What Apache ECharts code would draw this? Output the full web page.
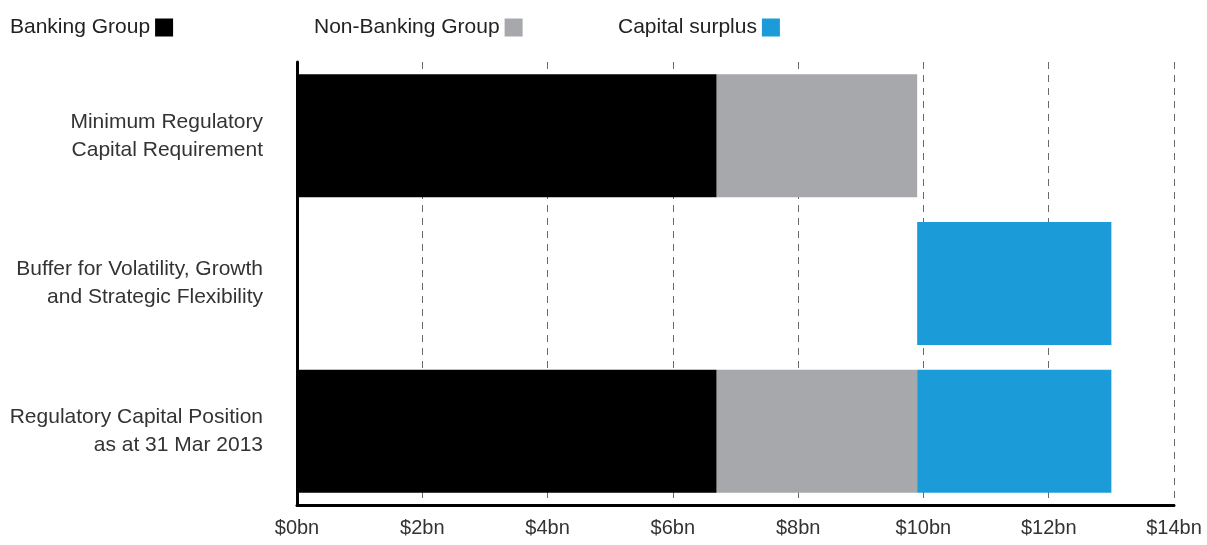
<!DOCTYPE html>
<html>
<head>
<meta charset="utf-8">
<script src="https://cdn.jsdelivr.net/npm/echarts@6/dist/echarts.min.js"></script>
<style>
html,body{margin:0;padding:0;background:#fff;}
#c{width:1207px;height:545px;}
</style>
</head>
<body>
<div id="c"></div>
<script>
const categories = ['Minimum Regulatory\nCapital Requirement', 'Buffer for Volatility, Growth\nand Strategic Flexibility', 'Regulatory Capital Position\nas at 31 Mar 2013'];
const bankingGroup = [6.7, 0, 6.7];
const nonBankingGroup = [3.2, 0, 3.2];
const bufferOffset = [0, 9.9, 0];
const capitalSurplus = [0, 3.1, 3.1];
const xTicks = [0, 2, 4, 6, 8, 10, 12, 14];

const FONT = 'Liberation Sans, Arial, sans-serif';
const chart = echarts.init(document.getElementById('c'));
const legendBase = {
  top: 17, orient: 'horizontal', align: 'right', icon: 'rect', padding: 0,
  itemWidth: 18, itemHeight: 18, selectedMode: false,
  textStyle: { fontSize: 21, color: '#222', fontFamily: FONT }
};
chart.setOption({
  animation: false,
  backgroundColor: '#fff',
  legend: [
    Object.assign({}, legendBase, { left: 10, data: ['Banking Group'] }),
    Object.assign({}, legendBase, { left: 314, data: ['Non-Banking Group'] }),
    Object.assign({}, legendBase, { left: 618, data: ['Capital surplus'] })
  ],
  grid: { left: 297, right: 33, top: 62, bottom: 40, containLabel: false },
  xAxis: {
    type: 'value', min: 0, max: 14, interval: 2,
    axisLine: { show: true, lineStyle: { color: '#000', width: 3 } },
    axisTick: { show: false },
    axisLabel: {
      margin: 13, fontSize: 20, color: '#333', fontFamily: FONT,
      formatter: v => xTicks.indexOf(v) >= 0 ? '$' + v + 'bn' : ''
    },
    splitLine: { show: true, lineStyle: { color: '#6a6a6a', width: 1, type: [7, 6] } }
  },
  yAxis: {
    type: 'category', data: categories, inverse: true,
    axisLine: { show: true, lineStyle: { color: '#000', width: 3 } },
    axisTick: { show: false },
    axisLabel: { margin: 34, fontSize: 21, lineHeight: 28, color: '#333', fontFamily: FONT, align: 'right' }
  },
  series: [
    { name: 'Banking Group', type: 'bar', stack: 's', data: bankingGroup, barWidth: 123, itemStyle: { color: '#000' } },
    { name: 'Non-Banking Group', type: 'bar', stack: 's', data: nonBankingGroup, itemStyle: { color: '#a6a8ab' } },
    { name: 'offset', type: 'bar', stack: 's', data: bufferOffset, itemStyle: { color: 'rgba(0,0,0,0)' }, silent: true },
    { name: 'Capital surplus', type: 'bar', stack: 's', data: capitalSurplus, itemStyle: { color: '#1b9cd8' } }
  ]
});
</script>
</body>
</html>
